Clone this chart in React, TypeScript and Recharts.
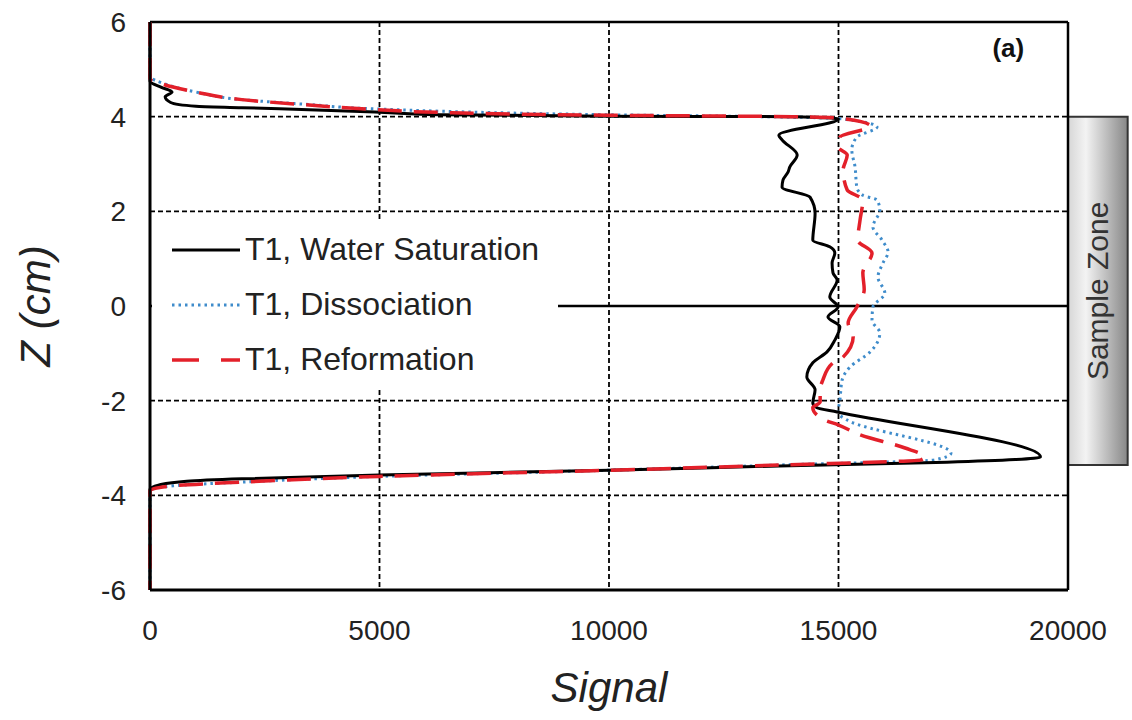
import {
  ComposedChart,
  Line,
  XAxis,
  YAxis,
  CartesianGrid,
  ReferenceLine,
  ReferenceArea,
  ReferenceDot,
  Legend,
} from "recharts"

const FONT = '"Liberation Sans", Arial, sans-serif'

const signalTicks = [0, 5000, 10000, 15000, 20000]
const zTicks = [-6, -4, -2, 0, 2, 4, 6]

// T1, Water Saturation
const waterZ = [
  6, 4.75, 4.62, 4.52, 4.42, 4.3, 4.22, 4.19, 4.1, 4.04, 4.01, 4.0, 3.95, 3.61, 3.51, 3.19, 2.94, 2.83,
  2.66, 2.51, 2.3, 1.96, 1.39, 1.25, 1.12, 0.91, 0.7, 0.55, 0.19, -0.02, -0.23, -0.44, -0.72, -0.97,
  -1.2, -1.5, -1.77, -2.05, -2.15, -2.24, -3.19, -3.3, -3.38, -3.47, -3.57, -3.65, -3.7, -3.78, -3.87, -6,
]
const waterSignal = [
  0, 0, 250, 480, 330, 450, 1000, 2000, 4900, 6300, 10000, 14000, 15000, 13700, 13770, 14100, 13940, 13900,
  13790, 13770, 14380, 14490, 14440, 14810, 14920, 14860, 14880, 14970, 14810, 14990, 14770, 15030, 14920, 14750,
  14440, 14310, 14490, 14440, 14530, 14970, 19400, 17360, 13700, 10000, 5000, 2000, 800, 200, 0, 0,
]

// T1, Dissociation
const dissZ = [
  6, 4.85, 4.7, 4.52, 4.36, 4.26, 4.16, 4.04, 3.99, 3.96, 3.78, 3.57, 3.3, 2.94, 2.51, 2.34, 2.24, 2.03,
  1.67, 1.39, 1.14, 0.91, 0.61, 0.27, -0.02, -0.3, -0.57, -0.97, -1.29, -1.56, -1.99, -2.26, -2.41, -3.11,
  -3.25, -3.36, -3.47, -3.6, -3.72, -3.8, -3.9, -6,
]
const dissSignal = [
  0, 0, 300, 1000, 2000, 3400, 5000, 10000, 14000, 15000, 15840, 15400, 15290, 15360, 15400, 15530, 15840, 15900,
  15750, 15950, 16080, 15970, 15860, 16010, 15750, 15730, 15900, 15690, 15250, 15080, 15030, 14990, 15190, 17450,
  17100, 13700, 10000, 5000, 2000, 500, 0, 0,
]

// T1, Reformation
const reformZ = [
  6, 4.8, 4.68, 4.52, 4.36, 4.25, 4.15, 4.09, 4.03, 4.0, 3.97, 3.8, 3.57, 3.36, 3.19, 2.87, 2.45, 2.24,
  1.82, 1.39, 1.12, 0.7, 0.35, -0.02, -0.36, -0.65, -1.08, -1.2, -1.56, -1.77, -2.03, -2.15, -2.41, -2.51,
  -2.73, -3.0, -3.19, -3.25, -3.36, -3.47, -3.6, -3.72, -3.8, -3.9, -6,
]
const reformSignal = [
  0, 0, 300, 1000, 2000, 3400, 4900, 6300, 10000, 14000, 15000, 15700, 15030, 14990, 15190, 15100, 15190, 15530,
  15470, 15420, 15730, 15530, 15560, 15400, 15210, 15320, 15100, 14880, 14660, 14600, 14600, 14440, 14700, 14990,
  15490, 16450, 16880, 16800, 13700, 10000, 5000, 2000, 500, 0, 0,
]

const toPoints = (zs: number[], sig: number[]) => zs.map((z, i) => ({ signal: sig[i], z }))

const series = [
  { name: "T1, Water Saturation", data: toPoints(waterZ, waterSignal), color: "#000000", width: 3, dash: undefined, legendDash: undefined },
  { name: "T1, Dissociation", data: toPoints(dissZ, dissSignal), color: "#3f8ccb", width: 3, dash: "2.5 4", legendDash: "2.5 4" },
  { name: "T1, Reformation", data: toPoints(reformZ, reformSignal), color: "#e3202a", width: 3.5, dash: "24 12", legendDash: "27 22" },
]
const drawOrder = [1, 0, 2]

function LegendBox() {
  return (
    <div style={{ background: "#fff", paddingLeft: 20, fontFamily: FONT }}>
      {series.map((s) => (
        <div key={s.name} style={{ display: "flex", alignItems: "center", height: 55 }}>
          <svg width={73} height={10} style={{ flexShrink: 0 }}>
            <line x1={0} y1={5} x2={68} y2={5} stroke={s.color} strokeWidth={s.width} strokeDasharray={s.legendDash} />
          </svg>
          <span style={{ fontSize: 32, color: "#222", whiteSpace: "nowrap" }}>{s.name}</span>
        </div>
      ))}
    </div>
  )
}

function ZLabel(props: any) {
  const vb = props.viewBox || {}
  const cx = vb.x + 35
  const cy = vb.y + vb.height / 2
  return (
    <text x={cx} y={cy} textAnchor="middle" dominantBaseline="central" fontSize={42} fontStyle="italic"
      fill="#222" fontFamily={FONT} transform={`rotate(-90, ${cx}, ${cy})`}>
      Z (cm)
    </text>
  )
}

export default function App() {
  return (
    <div style={{ position: "absolute", left: 0, top: 0, width: 1132, height: 720, background: "#fff" }}>
      <ComposedChart
        layout="vertical"
        width={1132}
        height={720}
        margin={{ top: 22, right: 64, bottom: 0, left: 0 }}
        style={{ fontFamily: FONT }}
      >
        <defs>
          <linearGradient id="zoneFill" x1="0" y1="0" x2="1" y2="0">
            <stop offset="0%" stopColor="#d6d6d6" />
            <stop offset="30%" stopColor="#f3f3f3" />
            <stop offset="100%" stopColor="#878787" />
          </linearGradient>
        </defs>
        <CartesianGrid stroke="#000" strokeDasharray="5 3" strokeWidth={1.8} />
        <XAxis
          type="number"
          dataKey="signal"
          domain={[0, 20000]}
          ticks={signalTicks}
          height={130}
          axisLine={{ stroke: "#000", strokeWidth: 3 }}
          tickLine={false}
          tickSize={0}
          tickMargin={30}
          tick={{ fontSize: 28, fill: "#222" }}
          label={{ value: "Signal", position: "insideBottom", offset: 18, fontSize: 42, fontStyle: "italic", fill: "#222" }}
        />
        <YAxis
          type="number"
          dataKey="z"
          domain={[-6, 6]}
          ticks={zTicks}
          reversed
          width={150}
          axisLine={{ stroke: "#000", strokeWidth: 3 }}
          tickLine={false}
          tickSize={0}
          tickMargin={24}
          tick={{ fontSize: 28, fill: "#222" }}
          label={<ZLabel />}
        />
        <ReferenceLine y={6} stroke="#000" strokeWidth={2.5} />
        <ReferenceLine x={20000} stroke="#000" strokeWidth={2.5} />
        <ReferenceLine segment={[{ x: 0, y: 0 }, { x: 20000, y: 0 }]} stroke="#000" strokeWidth={2.5} />
        <ReferenceArea
          x1={20000}
          x2={21300}
          y1={-3.36}
          y2={4}
          ifOverflow="visible"
          fill="url(#zoneFill)"
          fillOpacity={1}
          stroke="#333"
          strokeWidth={2}
          label={{ value: "Sample Zone", angle: -90, position: "center", fontSize: 30, fill: "#333" }}
        />
        <ReferenceDot
          x={18700}
          y={5.45}
          r={0}
          stroke="none"
          fill="none"
          label={{ value: "(a)", position: "center", fontSize: 26, fontWeight: "bold", fill: "#111" }}
        />
        {drawOrder.map((i) => {
          const s = series[i]
          return (
            <Line
              key={s.name}
              name={s.name}
              data={s.data}
              dataKey="signal"
              type="monotone"
              stroke={s.color}
              strokeWidth={s.width}
              strokeDasharray={s.dash}
              strokeLinejoin="round"
              dot={false}
              activeDot={false}
              isAnimationActive={false}
            />
          )
        })}
        <Legend
          layout="horizontal"
          verticalAlign="middle"
          align="center"
          content={() => <LegendBox />}
          wrapperStyle={{ left: 152, top: 222, width: 406, height: 165 }}
        />
      </ComposedChart>
    </div>
  )
}
